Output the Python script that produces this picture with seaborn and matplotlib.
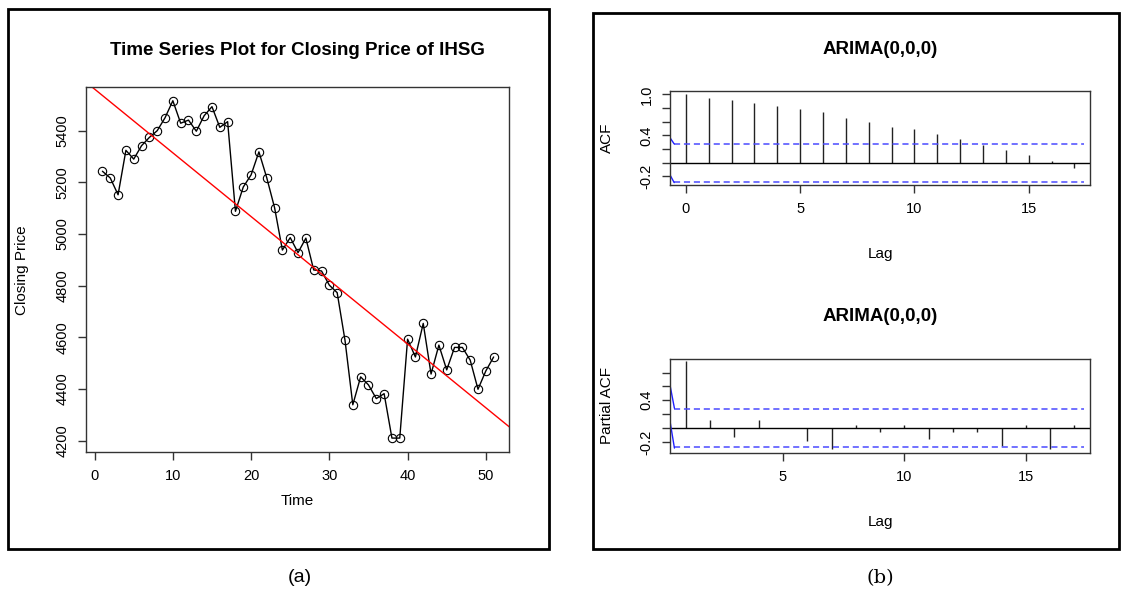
import numpy as np
import pandas as pd
import matplotlib
matplotlib.use("Agg")
import matplotlib.pyplot as plt
from matplotlib.patches import Rectangle
import seaborn as sns

# closing price of IHSG
time = list(range(1, 52))
closing_price = [5243, 5217, 5152, 5324, 5290, 5342, 5374, 5400, 5450, 5516,
                 5429, 5441, 5398, 5458, 5493, 5413, 5435, 5088, 5182, 5229,
                 5318, 5218, 5102, 4938, 4986, 4928, 4984, 4861, 4857, 4802,
                 4773, 4589, 4339, 4447, 4416, 4363, 4382, 4210, 4210, 4593,
                 4524, 4654, 4458, 4570, 4474, 4561, 4561, 4512, 4399, 4470,
                 4524]

acf_lags = list(range(0, 18))
acf_values = [1.0, 0.953, 0.923, 0.869, 0.835, 0.79, 0.736, 0.662, 0.602, 0.528,
              0.489, 0.415, 0.341, 0.267, 0.183, 0.109, 0.025, -0.079]

pacf_lags = list(range(1, 18))
pacf_values = [0.969, 0.111, -0.125, 0.111, 0.003, -0.183, -0.308, 0.043, -0.053,
               0.039, -0.164, -0.053, -0.053, -0.26, 0.039, -0.308, 0.039]

conf_limit = 0.2745
# short blue segments drawn at the left edge of the correlograms
acf_edge_upper = ([-0.70, -0.51], [0.37, 0.276])
acf_edge_lower = ([-0.70, -0.51], [-0.173, -0.29])
pacf_edge_upper = ([0.36, 0.53], [0.597, 0.285])
pacf_edge_lower = ([0.36, 0.53], [0.072, -0.289])

W, H = 1126, 592
FONT = ["Liberation Sans", "DejaVu Sans"]

sns.set_theme(style="white")
plt.rcParams["font.family"] = FONT
plt.rcParams["text.color"] = "black"
plt.rcParams["axes.labelcolor"] = "black"
plt.rcParams["xtick.color"] = "black"
plt.rcParams["ytick.color"] = "black"
plt.rcParams["axes.edgecolor"] = "#333333"
plt.rcParams["axes.linewidth"] = 1.0


def px_rect(x0, x1, top, bottom):
    return [x0 / W, (H - bottom) / H, (x1 - x0) / W, (bottom - top) / H]


def r_style(ax):
    for s in ax.spines.values():
        s.set_visible(True)
        s.set_color("#333333")
    ax.tick_params(axis="both", direction="out", length=6, width=1, color="#333333",
                   labelsize=10.5, labelcolor="black", bottom=True, left=True, pad=6)
    ax.tick_params(axis="y", labelrotation=90)
    for lab in ax.get_yticklabels():
        lab.set_va("center")
    ax.grid(False)


fig = plt.figure(figsize=(W / 100, H / 100), dpi=100)

# ---------- (a) time series ----------
ax1 = fig.add_axes(px_rect(86, 509.3, 87.3, 452.3))
df = pd.DataFrame({"Time": time, "Closing Price": closing_price})
ax1.set_xlim(-1.1, 53.0)
ax1.set_ylim(4155, 5568)
sns.lineplot(data=df, x="Time", y="Closing Price", ax=ax1, color="black", lw=1,
             marker="o", markersize=6, markerfacecolor="none",
             markeredgecolor="black", markeredgewidth=0.8)
sns.regplot(data=df, x="Time", y="Closing Price", ax=ax1, scatter=False, ci=None,
            truncate=False, line_kws={"color": "red", "lw": 1})
ax1.set_xlim(-1.1, 53.0)
ax1.set_ylim(4155, 5568)
ax1.set_xticks([0, 10, 20, 30, 40, 50])
ax1.set_yticks([4200, 4400, 4600, 4800, 5000, 5200, 5400])
r_style(ax1)
ax1.set_title("Time Series Plot for Closing Price of IHSG", fontsize=13.5,
              fontweight="bold", y=1.102, va="center", pad=0)
ax1.set_xlabel("Time", fontsize=11, va="center")
ax1.xaxis.set_label_coords(0.5, -0.133)
ax1.set_ylabel("Closing Price", fontsize=11, va="center")
ax1.yaxis.set_label_coords(-0.151, 0.5)

# ---------- (b) ACF ----------
ax2 = fig.add_axes(px_rect(670.3, 1090, 90.7, 185))
ax2.vlines(acf_lags, 0, acf_values, color="#222222", lw=1)
ax2.axhline(0, color="black", lw=1)
for sign in (1, -1):
    ax2.plot([-0.51, 17.4], [sign * conf_limit] * 2, color="#4a4aff", lw=1.1,
             dashes=(4, 2.5))
for seg in (acf_edge_upper, acf_edge_lower):
    ax2.plot(seg[0], seg[1], color="#2020ff", lw=1)
ax2.set_xlim(-0.68, 17.68)
ax2.set_ylim(-0.325, 1.055)
ax2.set_xticks([0, 5, 10, 15])
acf_ticks = [-0.2, 0.0, 0.2, 0.4, 0.6, 0.8, 1.0]
ax2.set_yticks(acf_ticks)
ax2.set_yticklabels(["-0.2", "", "", "0.4", "", "", "1.0"])
r_style(ax2)
ax2.set_title("ARIMA(0,0,0)", fontsize=13.5, fontweight="bold", y=1.432,
              va="center", pad=0)
ax2.set_xlabel("Lag", fontsize=11, va="center")
ax2.xaxis.set_label_coords(0.5, -0.73)
ax2.set_ylabel("ACF", fontsize=11, va="center")
ax2.yaxis.set_label_coords(-0.151, 0.5)

# ---------- (b) PACF ----------
ax3 = fig.add_axes(px_rect(670.3, 1090, 358.7, 453))
ax3.vlines(pacf_lags, 0, pacf_values, color="#222222", lw=1)
ax3.axhline(0, color="black", lw=1)
for sign in (1, -1):
    ax3.plot([0.53, 17.38], [sign * conf_limit] * 2, color="#4a4aff", lw=1.1,
             dashes=(4, 2.5))
for seg in (pacf_edge_upper, pacf_edge_lower):
    ax3.plot(seg[0], seg[1], color="#2020ff", lw=1)
ax3.set_xlim(0.36, 17.64)
ax3.set_ylim(-0.36, 1.0)
ax3.set_xticks([5, 10, 15])
ax3.set_yticks([-0.2, 0.0, 0.2, 0.4, 0.6, 0.8])
ax3.set_yticklabels(["-0.2", "", "", "0.4", "", ""])
r_style(ax3)
ax3.set_title("ARIMA(0,0,0)", fontsize=13.5, fontweight="bold", y=1.445,
              va="center", pad=0)
ax3.set_xlabel("Lag", fontsize=11, va="center")
ax3.xaxis.set_label_coords(0.5, -0.73)
ax3.set_ylabel("Partial ACF", fontsize=11, va="center")
ax3.yaxis.set_label_coords(-0.151, 0.5)

# panel frames and captions
for x0, x1, top, bottom in [(8, 549, 9, 549), (593, 1119, 12.7, 549)]:
    fig.add_artist(Rectangle((x0 / W, (H - bottom) / H), (x1 - x0) / W,
                             (bottom - top) / H, transform=fig.transFigure,
                             fill=False, lw=2, ec="black"))
fig.text(300 / W, 1 - 578 / H, "(a)", ha="center", va="center", fontsize=14,
         fontfamily="Liberation Sans")
fig.text(880 / W, 1 - 578 / H, "(b)", ha="center", va="center", fontsize=14,
         fontfamily="DejaVu Serif")

fig.savefig("out.png", dpi=100)
